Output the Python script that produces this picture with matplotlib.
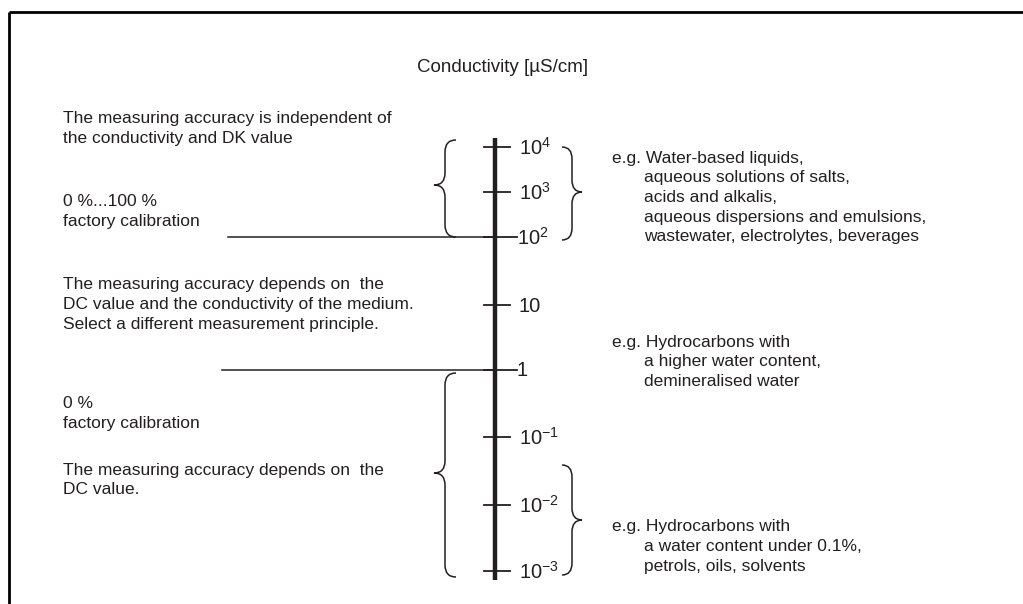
import matplotlib
matplotlib.use('Agg')
import numpy as np
import matplotlib.pyplot as plt
from matplotlib.path import Path
import matplotlib.patches as patches

plt.rcParams['font.family'] = ['Liberation Sans', 'DejaVu Sans']
plt.rcParams['mathtext.fontset'] = 'custom'
plt.rcParams['mathtext.rm'] = 'Liberation Sans'
plt.rcParams['mathtext.it'] = 'Liberation Sans'

# decades on the conductivity scale
exponents = [4, 3, 2, 1, 0, -1, -2, -3]
tick_y = [147, 192, 237, 305, 370, 437, 505, 571]   # layout

title = 'Conductivity [µS/cm]'

left_blocks = [
    ['The measuring accuracy is independent of', 'the conductivity and DK value'],
    ['0 %...100 %', 'factory calibration'],
    ['The measuring accuracy depends on  the', 'DC value and the conductivity of the medium.',
     'Select a different measurement principle.'],
    ['0 %', 'factory calibration'],
    ['The measuring accuracy depends on  the', 'DC value.'],
]
left_y = [119, 202, 285, 404, 470]

right_blocks = [
    ['e.g. Water-based liquids,', 'aqueous solutions of salts,', 'acids and alkalis,',
     'aqueous dispersions and emulsions,', 'wastewater, electrolytes, beverages'],
    ['e.g. Hydrocarbons with', 'a higher water content,', 'demineralised water'],
    ['e.g. Hydrocarbons with', 'a water content under 0.1%,', 'petrols, oils, solvents'],
]
right_y = [158, 342, 527]

FS = 12.5
LH = 19.7
col = '#231f20'

fig = plt.figure(figsize=(10.23, 6.04), dpi=100)
ax = fig.add_axes([0, 0, 1, 1])
ax.set_xlim(0, 1023)
ax.set_ylim(604, 0)
ax.axis('off')

# frame (top + left only)
ax.plot([9, 1023], [12, 12], color='black', lw=2, solid_capstyle='butt')
ax.plot([9, 9], [12, 604], color='black', lw=2, solid_capstyle='butt')

ax.text(503, 68, title, ha='center', va='center', fontsize=13.5, color=col)

# main axis
AX = 495
ax.plot([AX, AX], [138, 580], color=col, lw=3.2, solid_capstyle='butt')
for e, y in zip(exponents, tick_y):
    if e == 0:
        lab = '1'
    elif e == 1:
        lab = '10'
    else:
        lab = r'$\mathregular{10^{%d}}$' % e
    long = e in (2, 0)
    ax.plot([AX - 11, AX + (22 if long else 15)], [y, y], color=col, lw=1.3)
    ax.text(AX + (22 if long else 24), y + 1, lab, ha='left', va='center',
            fontsize=14.5, color=col)

# separators
ax.plot([228, AX], [237, 237], color=col, lw=1.1)
ax.plot([222, AX], [370, 370], color=col, lw=1.1)


def brace(x, y0, y1, w, side, ym=None):
    # side=-1 -> '{' (cusp to the left), side=1 -> '}'
    if ym is None:
        ym = (y0 + y1) / 2
    r = min(12, (ym - y0) / 3)
    d = side
    tip = x - d * w * 0.5
    cusp = x + d * w * 0.5
    verts = [(tip, y0), (x, y0), (x, y0 + r),
             (x, ym - r),
             (x, ym), (cusp, ym),
             (x, ym), (x, ym + r),
             (x, y1 - r),
             (x, y1), (tip, y1)]
    codes = [Path.MOVETO, Path.CURVE3, Path.CURVE3,
             Path.LINETO,
             Path.CURVE3, Path.CURVE3,
             Path.CURVE3, Path.CURVE3,
             Path.LINETO,
             Path.CURVE3, Path.CURVE3]
    ax.add_patch(patches.PathPatch(Path(verts, codes), facecolor='none',
                                   edgecolor=col, lw=1.1))


brace(445, 140, 237, 22, -1, 185)
brace(572, 147, 240, 20, 1, 192)
brace(445, 373, 577, 22, -1, 473)
brace(572, 465, 575, 20, 1, 520)

for lines, y in zip(left_blocks, left_y):
    for i, s in enumerate(lines):
        ax.text(63, y + i * LH, s, ha='left', va='center', fontsize=FS, color=col)

for lines, y in zip(right_blocks, right_y):
    for i, s in enumerate(lines):
        ax.text(612 if i == 0 else 644, y + i * LH, s, ha='left', va='center',
                fontsize=FS, color=col)

plt.savefig('out.png', dpi=100)
